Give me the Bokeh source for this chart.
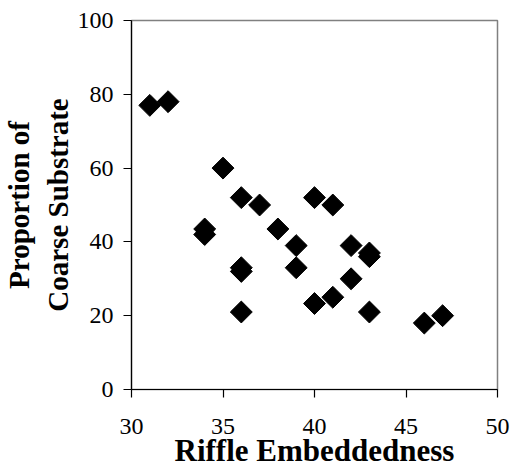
import numpy as np
from bokeh.plotting import figure
from bokeh.models import FixedTicker, Range1d
from bokeh.embed import file_html
from bokeh.resources import INLINE

embeddedness = [31, 32, 35, 36, 37, 34, 34, 38, 39, 39, 36, 36, 36, 40, 41, 42, 43, 43, 42, 40, 41, 43, 46, 47]
coarse = [77, 78, 60, 52, 50, 43.5, 42, 43.5, 39, 33, 33, 32, 21, 52, 50, 39, 37, 36, 30, 23.3, 25, 21, 18, 20]

x_ticks = [30, 35, 40, 45, 50]
y_ticks = [0, 20, 40, 60, 80, 100]

FONT = "Liberation Serif"

p = figure(frame_width=366, frame_height=369, output_backend="svg", toolbar_location=None,
           x_range=Range1d(30, 50), y_range=Range1d(0, 100),
           min_border_left=131, min_border_right=15, min_border_top=20, min_border_bottom=83)

p.scatter(embeddedness, coarse, marker="square", size=15.5, angle=np.pi / 4,
          fill_color="black", line_color="black")

p.xgrid.visible = False
p.ygrid.visible = False
p.outline_line_color = "#808080"
p.outline_line_width = 1.5

for ax in (p.xaxis[0], p.yaxis[0]):
    ax.axis_line_color = "black"
    ax.axis_line_width = 1.2
    ax.major_tick_line_color = "black"
    ax.major_tick_line_width = 1.2
    ax.major_tick_in = 0
    ax.major_tick_out = 8
    ax.minor_tick_line_color = None
    ax.major_label_text_font = FONT
    ax.major_label_text_font_size = "24px"
    ax.major_label_text_color = "black"
    ax.axis_label_text_font = FONT
    ax.axis_label_text_font_style = "bold"
    ax.axis_label_text_color = "black"

p.xaxis.axis_label_text_font_size = "31px"
p.yaxis.axis_label_text_font_size = "29px"
p.xaxis.ticker = FixedTicker(ticks=x_ticks)
p.yaxis.ticker = FixedTicker(ticks=y_ticks)
p.xaxis.axis_label = "Riffle Embeddedness"
p.yaxis.axis_label = "Proportion of\nCoarse Substrate"
p.xaxis.major_label_standoff = 21
p.yaxis.major_label_standoff = 10
p.xaxis.axis_label_standoff = -4
p.yaxis.axis_label_standoff = 1

open("out.html", "w").write(file_html(p, INLINE))
